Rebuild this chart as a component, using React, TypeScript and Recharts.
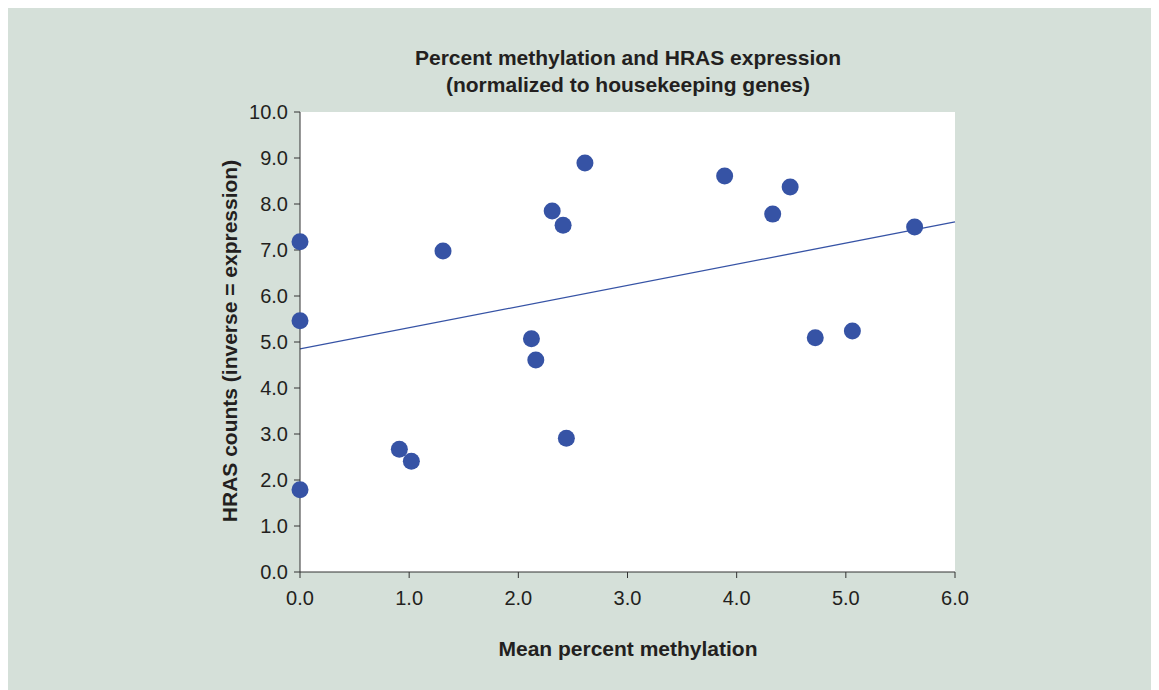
import {
  ComposedChart,
  Scatter,
  XAxis,
  YAxis,
  CartesianGrid,
  ReferenceLine,
} from "recharts";

const methylation = [0.0, 0.0, 0.0, 0.91, 1.02, 1.31, 2.12, 2.16, 2.31, 2.41, 2.44, 2.61, 3.89, 4.33, 4.49, 4.72, 5.06, 5.63];
const hrasCounts = [7.18, 5.46, 1.79, 2.67, 2.41, 6.98, 5.07, 4.61, 7.85, 7.54, 2.91, 8.89, 8.61, 7.78, 8.37, 5.09, 5.24, 7.5];
const trendX = [0, 6];
const trendY = [4.85, 7.61];
const xTicks = [0, 1, 2, 3, 4, 5, 6];
const yTicks = [0, 1, 2, 3, 4, 5, 6, 7, 8, 9, 10];

const points = methylation.map((x, i) => ({ x, y: hrasCounts[i] }));

const font = "'Liberation Sans', Arial, Helvetica, sans-serif";
const ink = "#231f20";
const blue = "#3653a5";

export default function App() {
  return (
    <div
      style={{
        position: "relative",
        width: 1151,
        height: 682,
        background: "#d5e0d9",
        fontFamily: font,
        color: ink,
      }}
    >
      <div
        style={{
          position: "absolute",
          left: 0,
          width: 1240,
          top: 36,
          textAlign: "center",
          fontWeight: "bold",
          fontSize: 21,
          lineHeight: "27px",
        }}
      >
        Percent methylation and HRAS expression
        <br />
        (normalized to housekeeping genes)
      </div>
      <ComposedChart
        width={1151}
        height={682}
        margin={{ top: 104, right: 204, bottom: 58, left: 232 }}
        style={{ position: "absolute", left: 0, top: 0 }}
      >
        <CartesianGrid fill="#ffffff" horizontal={false} vertical={false} />
        <XAxis
          type="number"
          dataKey="x"
          domain={[0, 6]}
          ticks={xTicks}
          tickFormatter={(v: number) => v.toFixed(1)}
          stroke="#333"
          tick={{ fill: ink, fontSize: 20, fontFamily: font }}
          tickSize={6}
          tickMargin={13}
          height={60}
        />
        <YAxis
          type="number"
          dataKey="y"
          domain={[0, 10]}
          ticks={yTicks}
          tickFormatter={(v: number) => v.toFixed(1)}
          stroke="#333"
          tick={{ fill: ink, fontSize: 20, fontFamily: font }}
          tickSize={6}
          tickMargin={6}
          width={60}
        />
        <ReferenceLine
          segment={[
            { x: trendX[0], y: trendY[0] },
            { x: trendX[1], y: trendY[1] },
          ]}
          stroke={blue}
          strokeWidth={1.3}
          ifOverflow="visible"
        />
        <Scatter
          data={points}
          dataKey="y"
          fill={blue}
          isAnimationActive={false}
          shape={(p: any) => <circle cx={p.cx} cy={p.cy} r={8.5} fill={blue} />}
        />
      </ComposedChart>
      <div
        style={{
          position: "absolute",
          left: 0,
          width: 1240,
          top: 629,
          textAlign: "center",
          fontWeight: "bold",
          fontSize: 21,
        }}
      >
        Mean percent methylation
      </div>
      <div
        style={{
          position: "absolute",
          left: 222,
          top: 333,
          width: 0,
          height: 0,
        }}
      >
        <div
          style={{
            position: "absolute",
            transform: "translate(-50%, -50%) rotate(-90deg)",
            whiteSpace: "nowrap",
            fontWeight: "bold",
            fontSize: 21,
          }}
        >
          HRAS counts (inverse = expression)
        </div>
      </div>
    </div>
  );
}
